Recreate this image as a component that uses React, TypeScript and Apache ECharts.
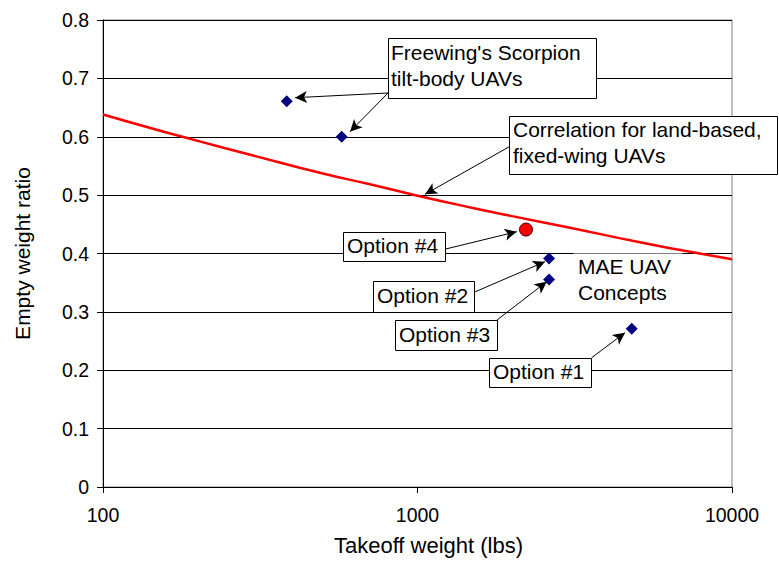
import React, { useEffect, useRef } from "react";
import * as echarts from "echarts";

// Correlation curve for land-based, fixed-wing UAVs
const corrWeight = [100, 150, 200, 300, 500, 700, 1000, 1500, 2000, 3000, 5000, 7000, 10000];
const corrRatio = [0.638, 0.611, 0.593, 0.568, 0.537, 0.519, 0.499, 0.478, 0.464, 0.445, 0.42, 0.405, 0.39];

// Freewing's Scorpion tilt-body UAVs
const freewingWeight = [384, 574];
const freewingRatio = [0.661, 0.6];

// MAE UAV concepts (Option #1, #2, #3)
const maeWeight = [4800, 2620, 2620];
const maeRatio = [0.271, 0.3915, 0.3555];

// Option #4
const opt4Weight = [2213];
const opt4Ratio = [0.441];

const yTicks = [0, 0.1, 0.2, 0.3, 0.4, 0.5, 0.6, 0.7, 0.8];
const xTicks = [100, 1000, 10000];

const FONT = '"Liberation Sans", Arial, sans-serif';

// annotation layout (pixels)
const boxes = [
  { x: 388, y: 38, w: 208, h: 60, tx: 391, ty: 40, lines: ["Freewing's Scorpion", "tilt-body UAVs"], border: true },
  { x: 509, y: 116, w: 268, h: 58, tx: 513, ty: 117, lines: ["Correlation for land-based,", "fixed-wing UAVs"], border: true },
  { x: 343, y: 232, w: 102, h: 29, tx: 347, ty: 233, lines: ["Option #4"], border: true },
  { x: 373, y: 281, w: 101, h: 31, tx: 377, ty: 283, lines: ["Option #2"], border: true },
  { x: 395, y: 320, w: 102, h: 30, tx: 399, ty: 322, lines: ["Option #3"], border: true },
  { x: 489, y: 358, w: 102, h: 29, tx: 493, ty: 359, lines: ["Option #1"], border: true },
  { x: 573, y: 253, w: 109, h: 56, tx: 578, ty: 254, lines: ["MAE UAV", "Concepts"], border: false },
];

const arrows: [number, number, number, number][] = [
  [388, 93, 295, 97.7],
  [388, 93, 350, 131.7],
  [509.3, 146.7, 425, 194.3],
  [445.7, 249, 516.7, 231.7],
  [474, 292.3, 545, 261.7],
  [497, 320, 546.7, 281.7],
  [591.7, 357.7, 625, 332.7],
];

export default function App() {
  const ref = useRef<HTMLDivElement>(null);
  useEffect(() => {
    if (!ref.current) return;
    const chart = echarts.init(ref.current, undefined, { renderer: "svg" });

    const graphics: any[] = [];
    boxes.forEach((b) => {
      graphics.push({
        type: "rect",
        z: 100,
        shape: { x: b.x + 0.5, y: b.y + 0.5, width: b.w, height: b.h },
        style: { fill: "#ffffff", stroke: b.border ? "#000000" : "none", lineWidth: 1 },
      });
      graphics.push({
        type: "text",
        z: 101,
        x: b.tx,
        y: b.ty,
        style: {
          text: b.lines.join("\n"),
          font: `21px ${FONT}`,
          fill: "#000000",
          lineHeight: 25.5,
          verticalAlign: "top",
          align: "left",
        },
      });
    });

    chart.setOption({
      animation: false,
      backgroundColor: "#ffffff",
      grid: {
        left: 103,
        top: 20,
        right: 47,
        bottom: 78,
        show: true,
        borderColor: "#808080",
        borderWidth: 1,
        backgroundColor: "transparent",
      },
      xAxis: {
        type: "log",
        logBase: 10,
        min: xTicks[0],
        max: xTicks[xTicks.length - 1],
        name: "Takeoff weight (lbs)",
        nameLocation: "middle",
        nameGap: 47,
        nameTextStyle: { fontFamily: FONT, fontSize: 22, color: "#000", padding: [0, 0, 0, 22] },
        axisLine: { show: true, lineStyle: { color: "#000", width: 1 } },
        axisTick: { show: true, inside: false, length: 6, lineStyle: { color: "#000" } },
        axisLabel: {
          fontFamily: FONT,
          fontSize: 19.5,
          color: "#000",
          margin: 18,
          formatter: (v: number) => String(Math.round(v)),
        },
        splitLine: { show: false },
        minorTick: { show: false },
      },
      yAxis: {
        type: "value",
        min: yTicks[0],
        max: yTicks[yTicks.length - 1],
        interval: 0.1,
        name: "Empty weight ratio",
        nameLocation: "middle",
        nameGap: 70,
        nameTextStyle: { fontFamily: FONT, fontSize: 21, color: "#000" },
        axisLine: { show: true, lineStyle: { color: "#000", width: 1 } },
        axisTick: { show: true, inside: false, length: 6, lineStyle: { color: "#000" } },
        axisLabel: { fontFamily: FONT, fontSize: 19.5, color: "#000", margin: 14 },
        splitLine: { show: true, lineStyle: { color: "#000", width: 1 } },
      },
      graphic: graphics,
      series: [
        {
          type: "line",
          name: "Correlation",
          data: corrWeight.map((w, i) => [w, corrRatio[i]]),
          smooth: true,
          showSymbol: false,
          symbol: "none",
          lineStyle: { color: "#ff0000", width: 2.5 },
          z: 3,
          markLine: {
            silent: true,
            symbol: ["none", "arrow"],
            symbolSize: [9, 12],
            label: { show: false },
            lineStyle: { color: "#000", width: 1, type: "solid" },
            data: arrows.map((a) => [
              { x: a[0], y: a[1] },
              { x: a[2], y: a[3] },
            ]),
            z: 50,
          },
        },
        {
          type: "scatter",
          name: "Freewing",
          data: freewingWeight.map((w, i) => [w, freewingRatio[i]]),
          symbol: "diamond",
          symbolSize: [12, 12],
          itemStyle: { color: "#000080", opacity: 1 },
          z: 4,
        },
        {
          type: "scatter",
          name: "MAE",
          data: maeWeight.map((w, i) => [w, maeRatio[i]]),
          symbol: "diamond",
          symbolSize: [12, 12],
          itemStyle: { color: "#000080", opacity: 1 },
          z: 4,
        },
        {
          type: "scatter",
          name: "Option #4",
          data: opt4Weight.map((w, i) => [w, opt4Ratio[i]]),
          symbol: "circle",
          symbolSize: 13,
          itemStyle: { color: "#ff0000", borderColor: "#400000", borderWidth: 1, opacity: 1 },
          z: 5,
        },
      ],
    });
    return () => chart.dispose();
  }, []);
  return (
    <div
      ref={ref}
      style={{ position: "fixed", left: 0, top: 0, width: 779, height: 565, background: "#fff" }}
    />
  );
}
